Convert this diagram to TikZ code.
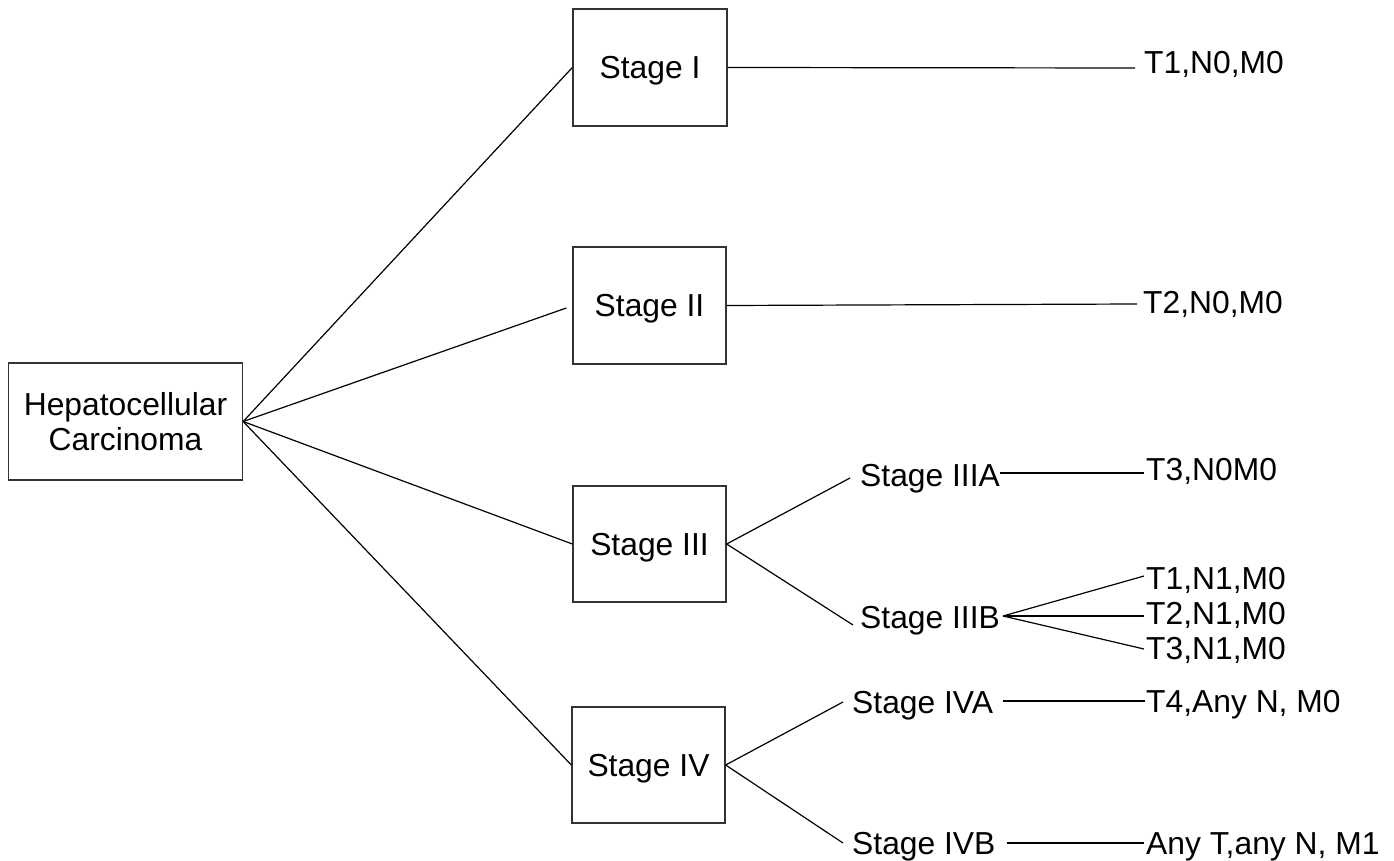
\documentclass[tikz,border=0pt]{standalone}
\usepackage{fontspec}
\setmainfont{Liberation Sans}
\begin{document}
\begin{tikzpicture}[x=1pt,y=-1pt,
  every node/.style={font=\fontsize{31.8}{35}\selectfont},
  stagebox/.style={draw=black!80, line width=1.3pt, minimum width=153pt, minimum height=116pt, inner sep=0pt, text height=22pt, text depth=0pt},
  lbl/.style={anchor=west, inner sep=0pt, text height=22pt, text depth=0pt},
  conn/.style={line width=1.2pt, black}]
\useasboundingbox (0,0) rectangle (1394,861);
% main boxes
\node[draw=black!80, line width=1.3pt, minimum width=234pt, minimum height=117pt, inner sep=0pt, align=center] (hcc) at (125.5,421.5) {Hepatocellular\\Carcinoma};
\node[stagebox, minimum width=154pt, minimum height=117pt] (s1) at (650,67.5) {Stage I};
\node[stagebox, minimum height=117pt] (s2) at (649.5,305.5) {Stage II};
\node[stagebox] (s3) at (649.5,544) {Stage III};
\node[stagebox] (s4) at (648.5,765) {Stage IV};
% sub-stage labels
\node[lbl] (s3a) at (860,475.5) {Stage IIIA};
\node[lbl] (s3b) at (860,617.5) {Stage IIIB};
\node[lbl] (s4a) at (852,702) {Stage IVA};
\node[lbl] (s4b) at (852,843) {Stage IVB};
% TNM labels
\node[lbl] (t10) at (1144,62.5) {T1,N0,M0};
\node[lbl] (t20) at (1143,302) {T2,N0,M0};
\node[lbl] (t3a) at (1146,469) {T3,N0M0};
\node[lbl] (t31) at (1146,578) {T1,N1,M0};
\node[lbl] (t32) at (1146,613.5) {T2,N1,M0};
\node[lbl] (t33) at (1146,648.5) {T3,N1,M0};
\node[lbl] (t4a) at (1146,701) {T4,Any N, M0};
\node[lbl] (t4b) at (1146,843) {Any T,any N, M1};
% connectors from HCC
\draw[conn] (hcc.east) -- (s1.west);
\draw[conn] (hcc.east) -- ([xshift=-6pt,yshift=-2.5pt]s2.west);
\draw[conn] (hcc.east) -- (s3.west);
\draw[conn] (hcc.east) -- (s4.west);
% stage I / II
\draw[conn] (s1.east) -- ([xshift=-9pt,yshift=-5.5pt]t10.west);
\draw[conn] (s2.east) -- ([xshift=-6pt,yshift=-2pt]t20.west);
% stage III
\draw[conn] (s3.east) -- ([xshift=-10pt,yshift=-2.5pt]s3a.west);
\draw[conn] (s3.east) -- ([xshift=-7pt,yshift=-7.5pt]s3b.west);
\draw[conn] ([yshift=2.5pt]s3a.east) -- ([xshift=-2pt,yshift=-4pt]t3a.west);
\draw[conn] ([xshift=3pt,yshift=1.5pt]s3b.east) -- ([xshift=-2pt,yshift=2pt]t31.west);
\draw[conn] ([xshift=3pt,yshift=1.5pt]s3b.east) -- ([xshift=-2pt,yshift=-2.5pt]t32.west);
\draw[conn] ([xshift=3pt,yshift=1.5pt]s3b.east) -- ([xshift=-2pt,yshift=-0.5pt]t33.west);
% stage IV
\draw[conn] (s4.east) -- ([xshift=-9pt]s4a.west);
\draw[conn] (s4.east) -- ([xshift=-9pt]s4b.west);
\draw[conn] ([xshift=10pt,yshift=1pt]s4a.east) -- ([xshift=-1pt]t4a.west);
\draw[conn] ([xshift=11pt]s4b.east) -- ([xshift=-2pt]t4b.west);
\end{tikzpicture}
\end{document}
